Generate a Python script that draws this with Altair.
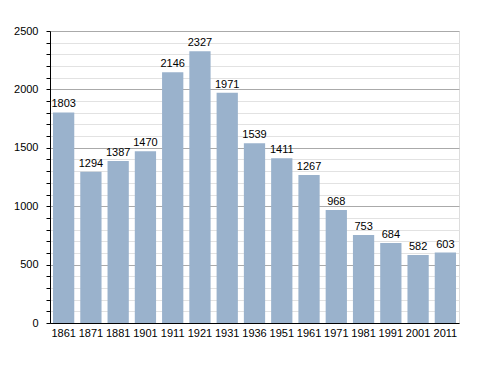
import altair as alt
import pandas as pd

years = ["1861", "1871", "1881", "1901", "1911", "1921", "1931", "1936",
         "1951", "1961", "1971", "1981", "1991", "2001", "2011"]
population = [1803, 1294, 1387, 1470, 2146, 2327, 1971, 1539,
              1411, 1267, 968, 753, 684, 582, 603]
y_ticks = list(range(0, 2501, 100))

df = pd.DataFrame({"year": years, "pop": population})

x = alt.X("year:N", sort=years, title=None,
          scale=alt.Scale(paddingInner=0.22, paddingOuter=0.11),
          axis=alt.Axis(labelAngle=0, ticks=False, domainColor="black",
                        labelFont="Liberation Sans", labelFontSize=11,
                        labelColor="black", labelPadding=4, grid=False))
y = alt.Y("pop:Q", title=None,
          scale=alt.Scale(domain=[0, 2500], nice=False),
          axis=alt.Axis(values=y_ticks, tickCount=30, format="d",
                        labelOverlap=False, domainColor="black",
                        labelExpr="datum.value % 500 === 0 ? datum.label : ''",
                        labelFont="Liberation Sans", labelFontSize=11,
                        labelColor="black", labelPadding=8,
                        tickColor="black", tickSize=4,
                        grid=True,
                        gridColor=alt.condition("datum.value % 500 === 0",
                                                alt.value("#aaaaaa"),
                                                alt.value("#e2e2e2"))))

bars = alt.Chart(df).mark_bar(color="#9ab2cc").encode(x=x, y=y)
labels = alt.Chart(df).mark_text(baseline="bottom", dy=-3, font="Liberation Sans",
                                 fontSize=11, color="black").encode(
    x=alt.X("year:N", sort=years), y="pop:Q", text=alt.Text("pop:Q", format="d"))

chart = (bars + labels).properties(
    width=409, height=292,
    autosize=alt.AutoSizeParams(type="none"),
    padding={"left": 42, "top": 23, "right": 20, "bottom": 40},
).configure_view(stroke=None).configure(background="white")

chart.save("out.html", embed_options={"renderer": "svg", "actions": False})
